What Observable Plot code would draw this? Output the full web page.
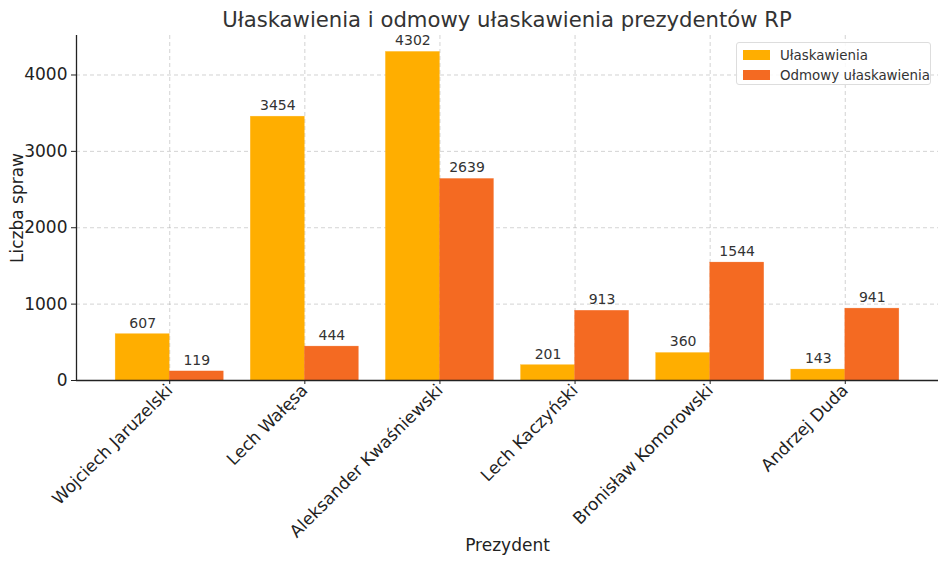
<!DOCTYPE html>
<html><head><meta charset="utf-8">
<script src="https://cdn.jsdelivr.net/npm/d3@7"></script>
<script src="https://cdn.jsdelivr.net/npm/@observablehq/plot@0.6"></script>
<style>
body{margin:0;background:#fff;font-family:"DejaVu Sans",sans-serif;}
#wrap{position:relative;width:948px;height:563px;}
#title{position:absolute;left:76px;width:862px;top:7px;text-align:center;font-size:21.2px;color:#333;}
#chart{position:absolute;left:0;top:30px;}
#legend{position:absolute;left:736px;top:42px;width:195px;height:43px;border:1px solid #ddd;border-radius:3px;background:rgba(255,255,255,0.85);font-size:13.4px;color:#333;box-sizing:border-box;padding:2px 0 0 6px;white-space:nowrap;}
.li{display:flex;align-items:center;height:20px;}
.sw{width:27px;height:10px;margin-right:10px;flex:none;}
</style></head>
<body><div id="wrap">
<div id="title">Ułaskawienia i odmowy ułaskawienia prezydentów RP</div>
<div id="chart"></div>
<div id="legend"></div>
</div>
<script>
const presidents = ["Wojciech Jaruzelski","Lech Wałęsa","Aleksander Kwaśniewski","Lech Kaczyński","Bronisław Komorowski","Andrzej Duda"];
const pardons = [607, 3454, 4302, 201, 360, 143];
const refusals = [119, 444, 2639, 913, 1544, 941];
const seriesNames = ["Ułaskawienia","Odmowy ułaskawienia"];
const seriesColors = ["#ffae00","#f46a22"];
const yTicks = [0,1000,2000,3000,4000];

const rows = [];
presidents.forEach((p,i)=>{
  rows.push({i, s:0, v:pardons[i], x1:i-0.4, x2:i});
  rows.push({i, s:1, v:refusals[i], x1:i, x2:i+0.4});
});

const chart = Plot.plot({
  width:948, height:533,
  marginLeft:76, marginRight:10, marginTop:5, marginBottom:183,
  style:{fontFamily:"DejaVu Sans", fontSize:"17px", color:"#222", background:"transparent"},
  x:{domain:[-0.69,5.69], type:"linear"},
  y:{domain:[0,4517]},
  marks:[
    Plot.gridY(yTicks,{stroke:"#b0b0b0", strokeOpacity:0.7, strokeDasharray:"4,3", strokeWidth:0.8}),
    Plot.gridX(d3.range(presidents.length),{stroke:"#b0b0b0", strokeOpacity:0.7, strokeDasharray:"4,3", strokeWidth:0.8}),
    Plot.rectY(rows,{x1:"x1", x2:"x2", y1:0, y2:"v", fill:d=>seriesColors[d.s], stroke:d=>seriesColors[d.s], strokeOpacity:0.5, strokeWidth:0.5}),
    Plot.text(rows,{x:d=>(d.x1+d.x2)/2, y:"v", text:d=>String(d.v), dy:-11, fontSize:14, fill:"#333"}),
    Plot.axisY(yTicks,{tickSize:5, tickPadding:4, fontSize:17, label:null, tickFormat:d3.format("d")}),
    Plot.axisX(d3.range(presidents.length),{tickSize:4, tickPadding:3, tickRotate:-45, tickFormat:i=>presidents[i], fontSize:17, label:null}),
    Plot.ruleX([-0.69],{stroke:"#222", strokeWidth:1.3}),
    Plot.ruleY([0],{stroke:"#222", strokeWidth:1.3}),
    Plot.text(["Liczba spraw"],{frameAnchor:"left", textAnchor:"middle", dx:-59, rotate:-90, fontSize:17, fill:"#222"}),
    Plot.text(["Prezydent"],{frameAnchor:"bottom", dy:170, fontSize:17, fill:"#222"})
  ]
});
document.getElementById("chart").appendChild(chart);

const lg = document.getElementById("legend");
seriesNames.forEach((n,k)=>{
  const d = document.createElement("div"); d.className="li";
  d.innerHTML = `<span class="sw" style="background:${seriesColors[k]}"></span><span>${n}</span>`;
  lg.appendChild(d);
});
</script></body></html>
